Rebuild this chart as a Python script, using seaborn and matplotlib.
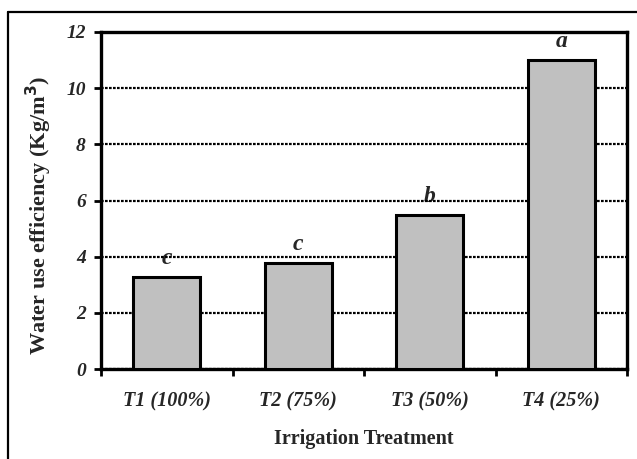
import matplotlib
matplotlib.use("Agg")
import matplotlib.pyplot as plt
import seaborn as sns
import pandas as pd
from matplotlib.lines import Line2D

categories = ["T1 (100%)", "T2 (75%)", "T3 (50%)", "T4 (25%)"]
wue = [3.29, 3.78, 5.47, 11.0]
letters = ["c", "c", "b", "a"]
yticks = [0, 2, 4, 6, 8, 10, 12]

df = pd.DataFrame({"Treatment": categories, "WUE": wue})

sns.set_theme(style="white")
plt.rcParams["font.family"] = ["Liberation Serif", "DejaVu Serif"]

fig = plt.figure(figsize=(6.37, 4.59), dpi=100)
ax = fig.add_axes([101/637, 1-369/459, 526/637, 337/459])

sns.barplot(data=df, x="Treatment", y="WUE", color="#c0c0c0", width=0.51,
            edgecolor="black", linewidth=2.2, saturation=1, ax=ax, zorder=3)

ax.set_ylim(0, 12)
ax.set_xlim(-0.5, 3.5)
ax.set_yticks(yticks)
ax.set_yticklabels([str(t) for t in yticks], fontsize=14, fontweight="bold", fontstyle="italic")
ax.set_xticks(range(len(categories)))
ax.set_xticklabels(categories, fontsize=14.5, fontweight="bold", fontstyle="italic")
ax.set_xticks([-0.5, 0.5, 1.5, 2.5, 3.5], minor=True)
ax.tick_params(axis="x", which="major", length=0, pad=16)
ax.tick_params(axis="x", which="minor", length=5, width=2, direction="out", color="black", bottom=True)
ax.tick_params(axis="y", which="major", length=5, width=2, direction="out", color="black", left=True, pad=6)

ax.yaxis.grid(True, color="black", linestyle=(0, (1.2, 0.6)), linewidth=1.6, zorder=1)
ax.set_axisbelow(True)
for s in ax.spines.values():
    s.set_visible(True)
    s.set_color("black")
    s.set_linewidth(2.4)

ax.set_xlabel("Irrigation Treatment", fontsize=14.5, fontweight="bold", labelpad=13)
ax.set_ylabel("Water use efficiency (Kg/m$^\\mathbf{3}$)", fontsize=16, fontweight="bold")
ax.yaxis.set_label_coords(-0.089, 0.457)

for i, (v, l) in enumerate(zip(wue, letters)):
    ax.text(i, v + 0.46, l, ha="center", va="baseline", fontsize=17,
            fontweight="bold", fontstyle="italic", zorder=0.3)

# outer frame (partially visible)
fig.add_artist(Line2D([8/637, 1.0], [1-12/459, 1-12/459], color="black", linewidth=1.6, transform=fig.transFigure))
fig.add_artist(Line2D([8/637, 8/637], [0.0, 1-12/459], color="black", linewidth=1.6, transform=fig.transFigure))

fig.savefig("out.png", dpi=100)
